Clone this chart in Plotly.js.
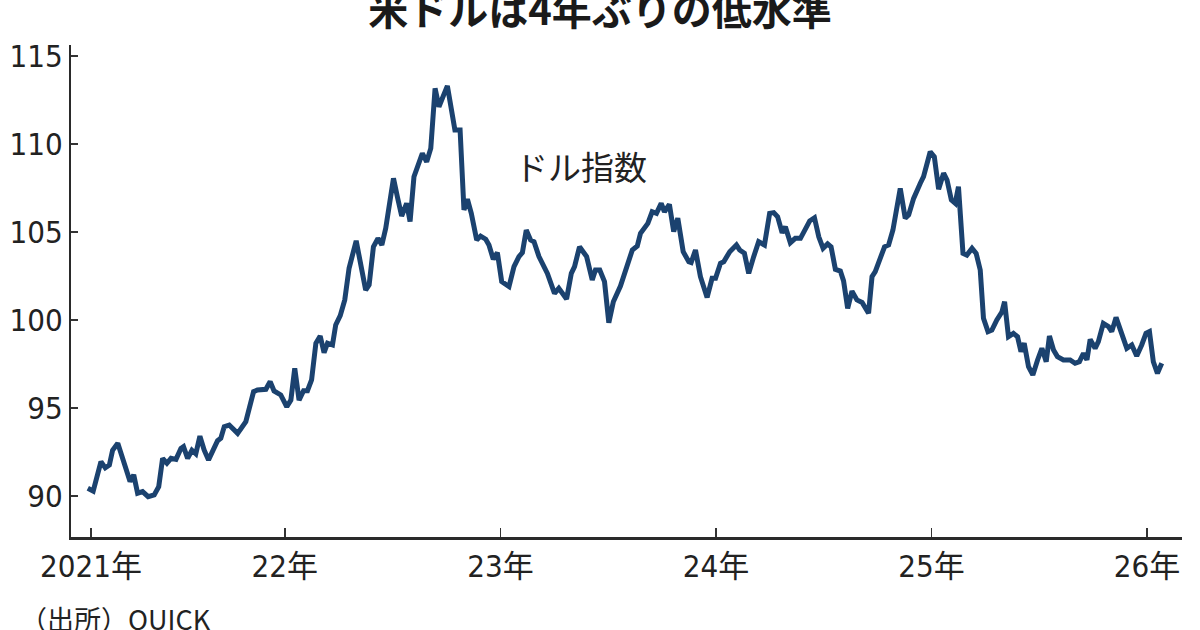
<!DOCTYPE html>
<html>
<head>
<meta charset="utf-8">
<script src="https://cdn.plot.ly/plotly-3.0.1.min.js"></script>
<style>html,body{margin:0;padding:0;background:#fff;}#chart{width:1200px;height:630px;}</style>
</head>
<body>
<div id="chart"></div>
<script>
// Dollar index (decimal year, value)
const years = [
 2021.086,2021.111,2021.147,2021.167,2021.186,2021.201,2021.225,2021.255,2021.282,2021.299,
 2021.317,2021.340,2021.366,2021.394,2021.415,2021.433,2021.453,2021.472,2021.495,2021.518,
 2021.530,2021.549,2021.569,2021.587,2021.606,2021.626,2021.646,2021.688,2021.703,2021.719,
 2021.742,2021.781,2021.804,2021.819,2021.855,2021.873,2021.912,2021.932,2021.950,2021.981,
 2022.009,2022.028,2022.046,2022.066,2022.087,2022.105,2022.124,2022.144,2022.164,2022.182,
 2022.198,2022.221,2022.236,2022.257,2022.278,2022.298,2022.331,2022.352,2022.375,2022.391,
 2022.411,2022.432,2022.450,2022.468,2022.504,2022.522,2022.542,2022.565,2022.581,2022.599,
 2022.638,2022.658,2022.677,2022.697,2022.715,2022.754,2022.789,2022.813,2022.831,2022.847,
 2022.865,2022.890,2022.908,2022.932,2022.947,2022.967,2022.986,2023.006,2023.040,2023.063,
 2023.086,2023.102,2023.120,2023.140,2023.156,2023.179,2023.218,2023.251,2023.271,2023.307,
 2023.329,2023.344,2023.367,2023.400,2023.426,2023.441,2023.461,2023.483,2023.503,2023.524,
 2023.557,2023.612,2023.635,2023.650,2023.684,2023.704,2023.724,2023.746,2023.761,2023.784,
 2023.804,2023.823,2023.848,2023.874,2023.885,2023.905,2023.928,2023.959,2023.982,2023.998,
 2024.021,2024.036,2024.064,2024.095,2024.110,2024.132,2024.152,2024.175,2024.198,2024.225,
 2024.249,2024.268,2024.286,2024.307,2024.322,2024.345,2024.368,2024.392,2024.415,2024.435,
 2024.457,2024.477,2024.497,2024.518,2024.534,2024.554,2024.577,2024.592,2024.611,2024.631,
 2024.654,2024.678,2024.708,2024.724,2024.739,2024.762,2024.782,2024.801,2024.821,2024.855,
 2024.878,2024.894,2024.917,2024.948,2024.963,2024.994,2025.013,2025.033,2025.056,2025.072,
 2025.092,2025.110,2025.125,2025.146,2025.164,2025.188,2025.207,2025.226,2025.241,2025.262,
 2025.280,2025.303,2025.327,2025.339,2025.357,2025.380,2025.399,2025.415,2025.430,2025.450,
 2025.470,2025.492,2025.512,2025.532,2025.547,2025.566,2025.584,2025.612,2025.643,2025.666,
 2025.686,2025.705,2025.721,2025.736,2025.759,2025.774,2025.797,2025.821,2025.836,2025.856,
 2025.883,2025.906,2025.929,2025.952,2025.975,2025.995,2026.011,2026.029,2026.048,2026.068
];
const dollarIndex = [
 90.44,90.28,91.95,91.60,91.76,92.60,93.00,91.86,90.82,91.20,
 90.16,90.25,89.96,90.06,90.53,92.14,91.86,92.14,92.08,92.70,
 92.80,92.14,92.60,92.40,93.40,92.60,92.05,93.14,93.28,93.94,
 94.03,93.56,94.03,94.22,95.93,96.02,96.06,96.50,95.97,95.74,
 95.07,95.45,97.26,95.45,95.98,95.98,96.59,98.68,99.09,98.14,
 98.68,98.58,99.72,100.25,101.14,102.94,104.50,103.22,101.70,101.99,
 104.16,104.64,104.26,105.21,108.05,107.00,105.91,106.63,105.59,108.14,
 109.47,108.99,109.75,113.16,112.12,113.30,110.80,110.80,106.25,106.86,
 106.06,104.55,104.77,104.59,104.26,103.45,103.83,102.18,101.90,103.03,
 103.60,103.83,105.11,104.55,104.45,103.60,102.65,101.51,101.80,101.19,
 102.65,103.03,104.16,103.60,102.27,102.84,102.84,102.18,99.85,101.04,
 101.93,103.98,104.20,104.93,105.49,106.15,106.06,106.63,106.15,106.57,
 105.02,105.78,103.88,103.31,103.26,103.98,102.46,101.28,102.37,102.37,
 103.22,103.31,103.88,104.26,103.98,103.79,102.65,103.60,104.45,104.26,
 106.06,106.10,105.87,104.96,105.30,104.39,104.64,104.64,105.21,105.63,
 105.81,104.73,104.07,104.32,104.16,102.88,102.78,102.22,100.66,101.64,
 101.14,101.00,100.38,102.46,102.75,103.41,104.16,104.26,105.11,107.48,
 105.78,105.97,106.91,107.77,108.14,109.56,109.28,107.43,108.34,107.95,
 106.82,106.63,107.57,103.79,103.69,104.07,103.79,102.84,100.10,99.34,
 99.43,100.00,100.47,101.04,99.05,99.24,99.05,98.20,98.68,97.35,
 96.88,97.73,98.39,97.63,99.09,98.30,97.92,97.73,97.73,97.54,
 97.63,98.11,97.73,98.90,98.39,98.77,99.81,99.62,99.34,100.15,
 99.24,98.39,98.58,97.95,98.58,99.24,99.34,97.63,96.97,97.54
];
const xTickVals = [2021.101, 2022, 2023, 2024, 2025, 2026];
const xTickText = ['2021年', '22年', '23年', '24年', '25年', '26年'];
const yTickVals = [90, 95, 100, 105, 110, 115];
const yTickText = ['90', '95', '100', '105', '110', '115'];
const chartTitle = '米ドルは4年ぶりの低水準';
const seriesLabel = 'ドル指数';
const sourceNote = '（出所）QUICK';

const numFont = 'Liberation Sans Narrow, DejaVu Sans Condensed, Noto Sans CJK JP, sans-serif';
const cjkFont = 'Noto Sans CJK JP, sans-serif';

const trace = {
  x: years, y: dollarIndex, type: 'scatter', mode: 'lines',
  line: {color: '#1b426f', width: 5, shape: 'linear'},
  hoverinfo: 'skip'
};

const layout = {
  width: 1200, height: 630,
  margin: {l: 71, r: 18, t: 45, b: 93, pad: 0},
  paper_bgcolor: '#ffffff', plot_bgcolor: '#ffffff',
  showlegend: false,
  title: {
    text: '<b>' + chartTitle + '</b>',
    font: {family: cjkFont, size: 40, color: '#1a1a1a'},
    x: 0.5, xanchor: 'center', xref: 'container',
    y: 1 - 11/630, yanchor: 'middle', yref: 'container'
  },
  xaxis: {
    range: [2021.008, 2026.162], type: 'linear',
    tickmode: 'array', tickvals: xTickVals, ticktext: xTickText,
    ticks: 'inside', ticklen: 9, tickwidth: 1.5, tickcolor: '#333',
    showline: true, linecolor: '#2a2a2a', linewidth: 2.5,
    showgrid: false, zeroline: false,
    tickfont: {family: numFont, size: 31, color: '#222'},
    ticklabelstandoff: 0, fixedrange: true
  },
  yaxis: {
    range: [87.67, 115.625],
    tickmode: 'array', tickvals: yTickVals, ticktext: yTickText,
    ticks: 'inside', ticklen: 7, tickwidth: 1.5, tickcolor: '#333',
    showline: true, linecolor: '#2a2a2a', linewidth: 2,
    showgrid: false, zeroline: false,
    tickfont: {family: numFont, size: 31, color: '#222'},
    fixedrange: true
  },
  annotations: [
    {text: seriesLabel, xref: 'paper', yref: 'paper',
     x: (513-71)/1111, y: (537-166)/492, xanchor: 'left', yanchor: 'middle',
     showarrow: false, font: {family: cjkFont, size: 33, color: '#222'}},
    {text: sourceNote, xref: 'paper', yref: 'paper',
     x: (18-71)/1111, y: (537-597)/492, xanchor: 'left', yanchor: 'top',
     showarrow: false, font: {family: cjkFont, size: 27, color: '#222'}}
  ]
};

Plotly.newPlot('chart', [trace], layout, {staticPlot: true, displayModeBar: false});
</script>
</body>
</html>
